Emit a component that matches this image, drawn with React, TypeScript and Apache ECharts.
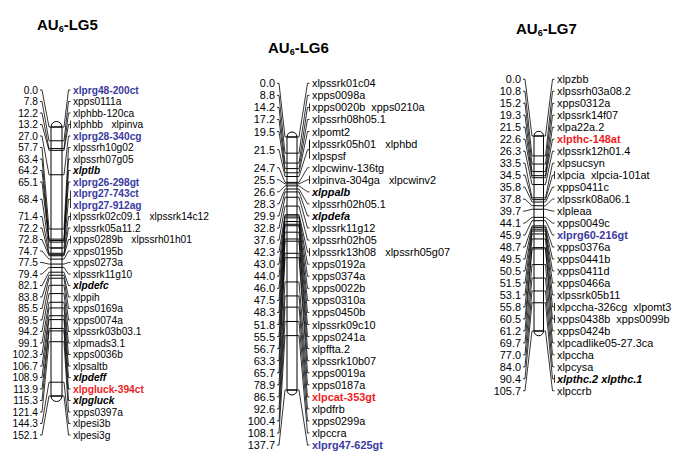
import React, { useEffect, useRef } from "react";
import * as echarts from "echarts";

// ---- data: positions (cM), locus names, label kind (n normal, b blue bold, r red bold, i bold italic)
const lg5Pos = [0.0, 7.8, 12.2, 13.2, 27.0, 57.7, 63.4, 64.2, 65.1, 68.4, 68.4, 71.4, 72.2, 72.8, 74.7, 77.5, 79.4, 82.1, 83.8, 85.5, 89.5, 94.2, 99.1, 102.3, 106.7, 108.9, 113.9, 115.3, 121.4, 144.3, 152.1];
const lg5Loci = ["xlprg48-200ct", "xpps0111a", "xlphbb-120ca", "xlphbb   xlpinva", "xlprg28-340cg", "xlpssrh10g02", "xlpssrh07g05", "xlptlb", "xlprg26-298gt", "xlprg27-743ct", "xlprg27-912ag", "xlpssrk02c09.1   xlpssrk14c12", "xlpssrk05a11.2", "xpps0289b   xlpssrh01h01", "xpps0195b", "xpps0273a", "xlpssrk11g10", "xlpdefc", "xlppih", "xpps0169a", "xpps0074a", "xlpssrk03b03.1", "xlpmads3.1", "xpps0036b", "xlpsaltb", "xlpdeff", "xlpgluck-394ct", "xlpgluck", "xpps0397a", "xlpesi3b", "xlpesi3g"];
const lg5Kind = ["b", "n", "n", "n", "b", "n", "n", "i", "b", "b", "b", "n", "n", "n", "n", "n", "n", "i", "n", "n", "n", "n", "n", "n", "n", "i", "r", "i", "n", "n", "n"];

const lg6Pos = [0.0, 8.8, 14.2, 17.2, 19.5, 21.5, 21.5, 24.7, 25.5, 26.6, 28.3, 29.9, 32.8, 37.6, 42.3, 43.0, 44.0, 46.0, 47.5, 48.3, 51.8, 55.5, 56.7, 63.3, 65.7, 78.9, 86.5, 92.6, 100.4, 108.1, 137.7];
const lg6Loci = ["xlpssrk01c04", "xpps0098a", "xpps0020b  xpps0210a", "xlpssrh08h05.1", "xlpomt2", "xlpssrk05h01   xlphbd", "xlpspsf", "xlpcwinv-136tg", "xlpinva-304ga   xlpcwinv2", "xlppalb", "xlpssrh02h05.1", "xlpdefa", "xlpssrk11g12", "xlpssrh02h05", "xlpssrk13h08   xlpssrh05g07", "xpps0192a", "xpps0374a", "xpps0022b", "xpps0310a", "xpps0450b", "xlpssrk09c10", "xpps0241a", "xlpffta.2", "xlpssrk10b07", "xpps0019a", "xpps0187a", "xlpcat-353gt", "xlpdfrb", "xpps0299a", "xlpccra", "xlprg47-625gt"];
const lg6Kind = ["n", "n", "n", "n", "n", "n", "n", "n", "n", "i", "n", "i", "n", "n", "n", "n", "n", "n", "n", "n", "n", "n", "n", "n", "n", "n", "r", "n", "n", "n", "b"];

const lg7Pos = [0.0, 10.8, 15.2, 19.3, 21.5, 22.6, 26.3, 33.5, 34.5, 35.8, 37.8, 39.7, 44.1, 45.9, 48.7, 49.5, 50.5, 51.5, 53.1, 55.8, 60.5, 61.2, 69.7, 77.0, 84.0, 90.4, 105.7];
const lg7Loci = ["xlpzbb", "xlpssrh03a08.2", "xpps0312a", "xlpssrk14f07", "xlpa22a.2", "xlpthc-148at", "xlpssrk12h01.4", "xlpsucsyn", "xlpcia  xlpcia-101at", "xpps0411c", "xlpssrk08a06.1", "xlpleaa", "xpps0049c", "xlprg60-216gt", "xpps0376a", "xpps0441b", "xpps0411d", "xpps0466a", "xlpssrk05b11", "xlpccha-326cg  xlpomt3", "xpps0438b  xpps0099b", "xpps0424b", "xlpcadlike05-27.3ca", "xlpccha", "xlpcysa", "xlpthc.2 xlpthc.1", "xlpccrb"];
const lg7Kind = ["n", "n", "n", "n", "n", "r", "n", "n", "n", "n", "n", "n", "n", "b", "n", "n", "n", "n", "n", "n", "n", "n", "n", "n", "n", "i", "n"];

const lgTitles = ["-LG5", "-LG6", "-LG7"];

// ---- layout (pixels)
const layouts = [
  { barLeft: 51, barW: 11, barTop: 127, barBottom: 396, rowTop: 90, rowStep: 11.5, numRight: 38, labelLeft: 73, font: 10.2, titleX: 37, titleY: 24 },
  { barLeft: 287, barW: 10, barTop: 137, barBottom: 390, rowTop: 83.3, rowStep: 12.06, numRight: 275, labelLeft: 312, font: 10.9, titleX: 268, titleY: 47.5 },
  { barLeft: 534, barW: 9.5, barTop: 136, barBottom: 331, rowTop: 79.3, rowStep: 11.98, numRight: 521, labelLeft: 557, font: 10.9, titleX: 516, titleY: 28 },
];

const FONT = '"Liberation Sans", Arial, Helvetica, sans-serif';
const BLUE = "#3a3aa0";
const RED = "#ee1c25";
const W = 685;
const H = 466;

function barSeries(gi: number, pos: number[]) {
  return {
    type: "custom",
    xAxisIndex: gi,
    yAxisIndex: gi,
    clip: false,
    silent: true,
    z: 1,
    data: [[0, pos[0], pos[pos.length - 1]]],
    renderItem: (_params: any, api: any) => {
      const [xl, yt] = api.coord([0, api.value(1)]);
      const [xr, yb] = api.coord([1, api.value(2)]);
      const r = (xr - xl) / 2;
      const cx = (xl + xr) / 2;
      const st = { fill: "none", stroke: "#000", lineWidth: 1 };
      return {
        type: "group",
        children: [
          { type: "rect", shape: { x: xl, y: yt, width: xr - xl, height: yb - yt }, style: { fill: "#fff", stroke: "#000", lineWidth: 1 } },
          { type: "arc", shape: { cx, cy: yt, r, startAngle: Math.PI, endAngle: 2 * Math.PI, clockwise: true }, style: st },
          { type: "arc", shape: { cx, cy: yb, r, startAngle: 0, endAngle: Math.PI, clockwise: true }, style: st },
        ],
      };
    },
  };
}

function lociSeries(gi: number, pos: number[], loci: string[], kind: string[], L: any) {
  const grp = pos.map((p, i) => {
    let s = i;
    while (s > 0 && pos[s - 1] === p) s--;
    let e = i;
    while (e < pos.length - 1 && pos[e + 1] === p) e++;
    return [s, e];
  });
  return {
    type: "custom",
    xAxisIndex: gi,
    yAxisIndex: gi,
    clip: false,
    silent: true,
    z: 3,
    data: pos.map((p, i) => [0, p, i, grp[i][0], grp[i][1]]),
    renderItem: (params: any, api: any) => {
      const i = params.dataIndex;
      const cm = api.value(1);
      const [xl, y] = api.coord([0, cm]);
      const xr = api.coord([1, cm])[0];
      const rowY = (k: number) => L.rowTop + k * L.rowStep;
      const ry = rowY(i);
      const k = kind[i];
      const bx = L.labelLeft - 2.5;
      const ln = { stroke: "#000", lineWidth: 0.8, fill: "none" };
      const ch: any[] = [];
      ch.push({ type: "line", shape: { x1: xl, y1: y, x2: xr, y2: y }, style: { stroke: "#000", lineWidth: 1 } });
      ch.push({
        type: "text",
        style: {
          x: L.labelLeft,
          y: ry,
          text: loci[i].replace(/ /g, "\u00a0"),
          fill: k === "b" ? BLUE : k === "r" ? RED : "#000",
          fontSize: L.font,
          fontFamily: FONT,
          fontWeight: k === "n" ? "normal" : "bold",
          fontStyle: k === "i" ? "italic" : "normal",
          align: "left",
          verticalAlign: "middle",
        },
      });
      if (/ /.test(loci[i])) {
        ch.push({ type: "line", shape: { x1: bx, y1: ry - 4, x2: bx, y2: ry + 4 }, style: ln });
      }
      const gs = api.value(3);
      const ge = api.value(4);
      if (i === gs) {
        const my = (rowY(gs) + rowY(ge)) / 2;
        ch.push({
          type: "text",
          style: {
            x: L.numRight,
            y: my,
            text: Number(cm).toFixed(1),
            fill: "#000",
            fontSize: L.font,
            fontFamily: FONT,
            align: "right",
            verticalAlign: "middle",
          },
        });
        ch.push({ type: "polyline", shape: { points: [[L.numRight + 2, my], [L.numRight + 4, my], [xl - 2, y], [xl, y]] }, style: ln });
        ch.push({ type: "polyline", shape: { points: [[xr, y], [xr + 2, y], [bx - 2, my], [bx, my]] }, style: ln });
        if (ge > gs) {
          ch.push({ type: "line", shape: { x1: bx, y1: rowY(gs) - 3, x2: bx, y2: rowY(ge) + 3 }, style: ln });
        }
      }
      return { type: "group", children: ch };
    },
  };
}

export default function App() {
  const ref = useRef<HTMLDivElement>(null);
  useEffect(() => {
    document.body.style.margin = "0";
    if (!ref.current) return;
    const chart = echarts.init(ref.current, null, { renderer: "svg", width: W, height: H });
    const sets = [
      { pos: lg5Pos, loci: lg5Loci, kind: lg5Kind },
      { pos: lg6Pos, loci: lg6Loci, kind: lg6Kind },
      { pos: lg7Pos, loci: lg7Loci, kind: lg7Kind },
    ];
    const grid = layouts.map((L) => ({ left: L.barLeft, top: L.barTop, width: L.barW, height: L.barBottom - L.barTop, containLabel: false }));
    const xAxis = layouts.map((_, gi) => ({ type: "value", gridIndex: gi, min: 0, max: 1, show: false }));
    const yAxis = sets.map((s, gi) => ({ type: "value", gridIndex: gi, inverse: true, min: 0, max: s.pos[s.pos.length - 1], show: false }));
    const series: any[] = [];
    sets.forEach((s, gi) => {
      series.push(barSeries(gi, s.pos));
      series.push(lociSeries(gi, s.pos, s.loci, s.kind, layouts[gi]));
    });
    const titleFont = { fontFamily: FONT, fontWeight: "bold", fill: "#000" };
    const graphic = layouts.map((L, gi) => ({
      type: "group",
      x: L.titleX,
      y: L.titleY,
      children: [
        { type: "text", x: 0, y: 0, style: { ...titleFont, text: "AU", fontSize: 15, align: "left", verticalAlign: "middle" } },
        { type: "text", x: 21.7, y: 4.5, style: { ...titleFont, text: "6", fontSize: 9, align: "left", verticalAlign: "middle" } },
        { type: "text", x: 26.7, y: 0, style: { ...titleFont, text: lgTitles[gi], fontSize: 15, align: "left", verticalAlign: "middle" } },
      ],
    }));
    chart.setOption({
      animation: false,
      backgroundColor: "#fff",
      grid,
      xAxis,
      yAxis,
      series,
      graphic,
    });
    return () => chart.dispose();
  }, []);
  return <div ref={ref} style={{ width: W, height: H }} />;
}
